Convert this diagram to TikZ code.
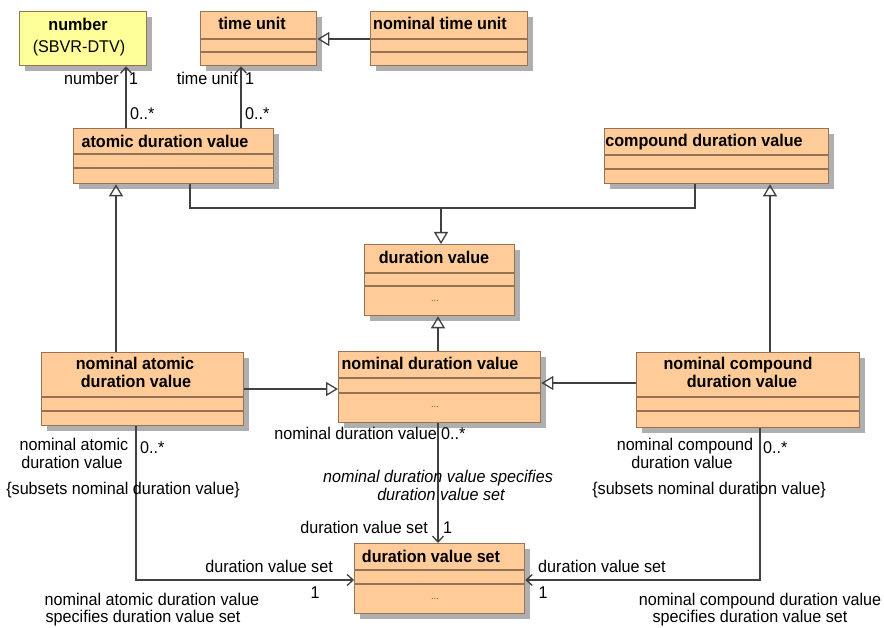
\documentclass[tikz,border=0pt]{standalone}
\usepackage{fontspec}
\setmainfont{Liberation Sans}[FakeStretch=0.95]
\usetikzlibrary{arrows.meta,calc,shadows}
\definecolor{peach}{RGB}{255,204,153}
\definecolor{lemon}{RGB}{255,255,153}
\definecolor{boxline}{RGB}{150,115,85}
\definecolor{shade}{RGB}{175,175,175}
\definecolor{wire}{RGB}{64,64,64}
\definecolor{dotcol}{RGB}{150,80,60}
\tikzset{
  classbox/.style={draw=boxline, fill=peach, line width=1.3pt, anchor=north west, inner sep=0pt,
    drop shadow={shadow xshift=5pt, shadow yshift=-5pt, fill=shade, opacity=1}},
  compline/.style={draw=boxline, line width=1.3pt},
  classname/.style={font=\fontsize{17}{18}\selectfont\bfseries, anchor=base, inner sep=0pt},
  rolelabel/.style={font=\fontsize{17}{18}\selectfont, anchor=base, inner sep=0pt},
  dotsmark/.style={font=\fontsize{10}{10}\selectfont, text=dotcol, anchor=base, inner sep=0pt},
  gen/.style={draw=wire, line width=1.3pt, -{Triangle[open, length=12pt, width=14pt]}},
  assoc/.style={draw=wire, line width=1.3pt, -{Straight Barb[length=6pt, width=11pt]}},
  link/.style={draw=wire, line width=1.3pt}
}
\begin{document}
\begin{tikzpicture}[x=1pt,y=-1pt]
  \useasboundingbox (0,0) rectangle (884,628);
  % class boxes
  \node[classbox, fill=lemon, minimum width=127pt, minimum height=54pt] (number) at (19,11) {}; % number
  \node[classbox, minimum width=116pt, minimum height=54pt] (tunit) at (200,11) {}; % time unit
  \node[classbox, minimum width=157pt, minimum height=54pt] (ntunit) at (370,11) {}; % nominal time unit
  \node[classbox, minimum width=200pt, minimum height=55pt] (atomic) at (73,128) {}; % atomic duration value
  \node[classbox, minimum width=224pt, minimum height=55pt] (compound) at (604,128) {}; % compound duration value
  \node[classbox, minimum width=150pt, minimum height=71pt] (durval) at (364,244) {}; % duration value
  \node[classbox, minimum width=202pt, minimum height=73pt] (natomic) at (41,352) {}; % nominal atomic duration value
  \node[classbox, minimum width=202pt, minimum height=71pt] (ndurval) at (338,351) {}; % nominal duration value
  \node[classbox, minimum width=223pt, minimum height=75pt] (ncompound) at (636,352) {}; % nominal compound duration value
  \node[classbox, minimum width=170pt, minimum height=70pt] (dvset) at (354,543) {}; % duration value set
  % compartments
  \foreach \cls/\first/\second in {tunit/28/41, ntunit/28/41, atomic/26/40, compound/27/41, durval/29/42,
      natomic/45/59, ndurval/27/42, ncompound/45/59, dvset/27/41}{
    \draw[compline] ($(\cls.north west)+(0,\first)$) -- ($(\cls.north east)+(0,\first)$);
    \draw[compline] ($(\cls.north west)+(0,\second)$) -- ($(\cls.north east)+(0,\second)$);
  }
  % class names
  \node[classname] (number-name) at (78,31) {number};
  \node[rolelabel] (number-tag) at (79,53) {(SBVR-DTV)};
  \node[classname] (tunit-name) at (252,30) {time unit};
  \node[classname] (ntunit-name) at (440,30) {nominal time unit};
  \node[classname] (atomic-name) at (165,148) {atomic duration value};
  \node[classname] (compound-name) at (704,147) {compound duration value};
  \node[classname] (durval-name) at (434,264) {duration value};
  \node[classname] (ndurval-name) at (430,370) {nominal duration value};
  \node[classname] (natomic-name) at (135,370) {nominal atomic};
  \node[classname] (natomic-name2) at (136,388) {duration value};
  \node[classname] (ncompound-name) at (738,370) {nominal compound};
  \node[classname] (ncompound-name2) at (742,388) {duration value};
  \node[classname] (dvset-name) at (431,562) {duration value set};
  \node[dotsmark] (durval-dots) at (435,302) {...};
  \node[dotsmark] (ndurval-dots) at (435,407) {...};
  \node[dotsmark] (dvset-dots) at (435,599) {...};
  % generalizations
  \draw[gen] ($(ntunit.north west)+(0,28)$) -- ($(tunit.north east)+(0,28)$); % nominal time unit
  \draw[gen] ($(atomic.south west)+(117,0)$) |- ($(durval.north west)+(77,-36)$) -- ($(durval.north west)+(77,0)$); % atomic
  \draw[link] ($(compound.south west)+(91,0)$) |- ($(durval.north west)+(77,-36)$); % compound
  \draw[gen] ($(natomic.north west)+(75,0)$) -- ($(atomic.south west)+(43,0)$); % nominal atomic
  \draw[gen] ($(ncompound.north west)+(134,0)$) -- ($(compound.south west)+(166,0)$); % nominal compound
  \draw[gen] ($(ndurval.north west)+(100,0)$) -- ($(durval.south west)+(74,0)$); % nominal duration
  \draw[gen] ($(natomic.north east)+(0,37)$) -- ($(ndurval.north west)+(0,38)$); % nominal atomic -> nominal
  \draw[gen] ($(ncompound.north west)+(0,31)$) -- ($(ndurval.north east)+(0,32)$); % nominal compound -> nominal
  % associations
  \draw[assoc] ($(atomic.north west)+(53,0)$) -- ($(number.south west)+(107,0)$); % number
  \draw[assoc] ($(atomic.north west)+(168,0)$) -- ($(tunit.south west)+(41,0)$); % time unit
  \draw[assoc] ($(ndurval.south west)+(100,0)$) -- ($(dvset.north west)+(84,0)$); % specifies
  \draw[assoc] ($(natomic.south west)+(95,0)$) |- ($(dvset.north west)+(0,37)$); % atomic specifies
  \draw[assoc] ($(ncompound.south west)+(124,0)$) |- ($(dvset.north east)+(0,37)$); % compound specifies
  % role labels
  \node[rolelabel, anchor=base east] (number-role) at (119,85) {number};
  \node[rolelabel, anchor=base west] (number-one) at (129,85) {1};
  \node[rolelabel, anchor=base west] (number-many) at (130,120) {0..*};
  \node[rolelabel, anchor=base east] (tunit-role) at (238,85) {time unit};
  \node[rolelabel, anchor=base west] (tunit-one) at (245,85) {1};
  \node[rolelabel, anchor=base west] (tunit-many) at (245,120) {0..*};
  \node[rolelabel, anchor=base east] (ndv-role) at (437,439) {nominal duration value};
  \node[rolelabel, anchor=base west] (ndv-many) at (441,439) {0..*};
  \node[rolelabel, font=\fontsize{17}{18}\selectfont\itshape] (spec-name) at (438,482) {nominal duration value specifies};
  \node[rolelabel, font=\fontsize{17}{18}\selectfont\itshape] (spec-name2) at (441,500) {duration value set};
  \node[rolelabel, anchor=base east] (dvs-role) at (428,533) {duration value set};
  \node[rolelabel, anchor=base west] (dvs-one) at (443,533) {1};
  \node[rolelabel, anchor=base east] (dvs-left) at (333,572) {duration value set};
  \node[rolelabel] (dvs-left-one) at (315,598) {1};
  \node[rolelabel, anchor=base west] (dvs-right) at (538,572) {duration value set};
  \node[rolelabel] (dvs-right-one) at (543,598) {1};
  \node[rolelabel] (na-role) at (74,450) {nominal atomic};
  \node[rolelabel] (na-role2) at (72,468) {duration value};
  \node[rolelabel, anchor=base west] (na-many) at (140,453) {0..*};
  \node[rolelabel] (na-subsets) at (123,494) {\{subsets nominal duration value\}};
  \node[rolelabel] (na-assoc) at (152,605) {nominal atomic duration value};
  \node[rolelabel] (na-assoc2) at (143,622) {specifies duration value set};
  \node[rolelabel] (nc-role) at (685,450) {nominal compound};
  \node[rolelabel] (nc-role2) at (682,468) {duration value};
  \node[rolelabel, anchor=base west] (nc-many) at (763,453) {0..*};
  \node[rolelabel] (nc-subsets) at (709,494) {\{subsets nominal duration value\}};
  \node[rolelabel] (nc-assoc) at (760,605) {nominal compound duration value};
  \node[rolelabel] (nc-assoc2) at (750,622) {specifies duration value set};
\end{tikzpicture}
\end{document}
